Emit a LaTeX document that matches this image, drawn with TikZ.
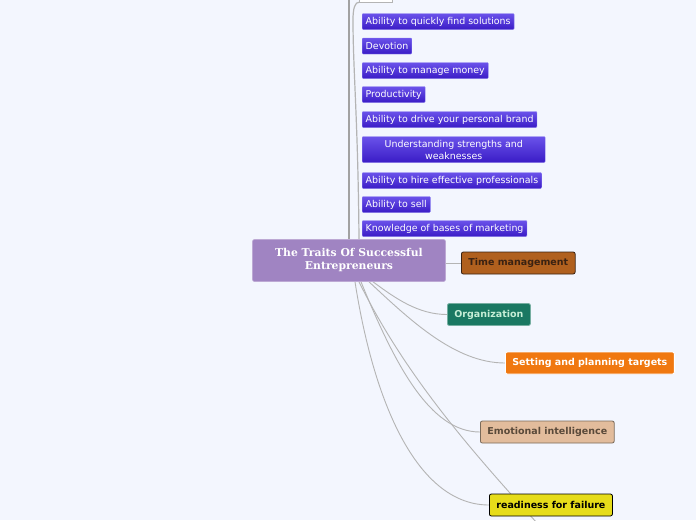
\documentclass[tikz,border=0pt]{standalone}
\usepackage{fontspec}
\setmainfont{DejaVu Sans}
\newfontfamily\rootfont{DejaVu Serif}
\usetikzlibrary{backgrounds}

\definecolor{bgblue}{HTML}{F3F6FE}
\definecolor{linkgray}{HTML}{B4B4B4}
\definecolor{rootpurple}{HTML}{A084C2}
\definecolor{listtop}{HTML}{6A52EA}
\definecolor{listbot}{HTML}{3A1CC6}
\definecolor{listedge}{HTML}{8C80F0}
\definecolor{timebrown}{HTML}{B0601E}
\definecolor{timetext}{HTML}{3A2212}
\definecolor{orgteal}{HTML}{1A7862}
\definecolor{orgtext}{HTML}{C6EED6}
\definecolor{setorange}{HTML}{F07810}
\definecolor{emotan}{HTML}{E2BC9C}
\definecolor{emotext}{HTML}{5A4A3A}
\definecolor{emoedge}{HTML}{7A6A5A}
\definecolor{readyyellow}{HTML}{E6DC1A}

\tikzset{
	link/.style={draw=linkgray, line width=0.9pt},
	trunk/.style={draw=linkgray!90!black, line width=1.4pt},
	trait/.style={rectangle, rounded corners=1pt, anchor=west, minimum height=16pt,
		inner xsep=3.5pt, inner ysep=0pt, top color=listtop, bottom color=listbot,
		draw=listedge, line width=0.4pt, text=white, font=\fontsize{9.45}{12}\selectfont},
	topic/.style={rectangle, rounded corners=2pt, anchor=west, minimum height=22pt,
		inner xsep=7pt, inner ysep=0pt, line width=0.8pt, font=\bfseries\fontsize{9.5}{11}\selectfont}
}

\begin{document}
\begin{tikzpicture}[x=1pt,y=-1pt]
	\useasboundingbox (0,0) rectangle (696,520);

	% main topic
	\node[rectangle, rounded corners=2pt, fill=rootpurple, draw=rootpurple!70!white, line width=0.6pt,
		minimum width=193pt, minimum height=42pt, align=center, text=white,
		font=\rootfont\bfseries\fontsize{10.8}{13}\selectfont] (root) at (349, 260.5)
		{The Traits Of Successful\\Entrepreneurs};

	% topic cut off at the top edge
	\node[rectangle, draw=linkgray, fill=white, minimum width=33pt, minimum height=16pt] (topnode) at (376, -6) {};

	% traits
	\node[trait] (solve) at (362, 21.5)  {Ability to quickly find solutions};
	\node[trait] (devot) at (362, 46)    {Devotion};
	\node[trait] (money) at (362, 70.5)  {Ability to manage money};
	\node[trait] (prod)  at (362, 94.5)  {Productivity};
	\node[trait] (brand) at (362, 119.5) {Ability to drive your personal brand};
	\node[trait, minimum width=183pt, minimum height=26pt, align=center] (under) at (362, 149.5)
		{Understanding strengths and\\weaknesses};
	\node[trait] (hire)  at (362, 180.5) {Ability to hire effective professionals};
	\node[trait] (sell)  at (362, 204.5) {Ability to sell};
	\node[trait] (mark)  at (362, 228.5) {Knowledge of bases of marketing};

	% main branches
	\node[topic, fill=timebrown, draw=timetext, text=timetext] (time) at (461, 263) {Time management};
	\node[topic, fill=orgteal, draw=orgteal!60!white, text=orgtext] (org) at (447, 314.5) {Organization};
	\node[topic, fill=setorange, draw=white, text=white] (set) at (505, 363) {Setting and planning targets};
	\node[topic, fill=emotan, draw=emoedge, text=emotext] (emo) at (480, 432) {Emotional intelligence};
	\node[topic, fill=readyyellow, draw=black, text=black] (ready) at (489, 505) {readiness for failure};

	\coordinate (upend) at (349, -20);
	\coordinate (offend) at (548, 535);

	\begin{scope}[on background layer]
		\fill[bgblue] (0,0) rectangle (696,520);
		\path[trunk] (root.north -| upend) -- (upend);
		\path[link, line width=1.2pt] ([xshift=10pt]root.north) .. controls (358,120) and (353,70) .. (353,20)
			.. controls (353,8) and (355,2) .. (topnode.south west);
		\path[link] (root.east |- time.west) -- (time.west);
		\path[link] ([xshift=24pt]root.south) .. controls (395,298) and (418,314.5) .. (org.west);
		\path[link] ([xshift=20pt]root.south) .. controls (410,320) and (455,363) .. (set.west);
		\path[link] ([xshift=12pt]root.south) .. controls (395,365) and (430,432) .. (emo.west);
		\path[link] ([xshift=6pt]root.south) .. controls (375,410) and (420,505) .. (ready.west);
		\path[link] ([xshift=10pt]root.south) .. controls (405,375) and (470,450) .. (offend);
	\end{scope}
\end{tikzpicture}
\end{document}
